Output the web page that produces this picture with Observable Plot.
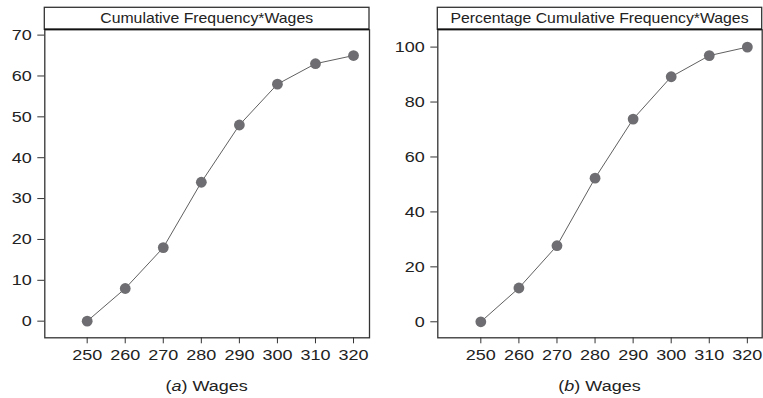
<!DOCTYPE html>
<html>
<head>
<meta charset="utf-8">
<script src="https://cdn.jsdelivr.net/npm/d3@7"></script>
<script src="https://cdn.jsdelivr.net/npm/@observablehq/plot@0.6"></script>
<style>
  body { margin: 0; background: #fff; }
  #wrap { position: relative; width: 763px; height: 398px; overflow: hidden; }
  #wrap svg { position: absolute; top: 0; }
</style>
</head>
<body>
<div id="wrap"></div>
<script>
// ---- data ----
const wages = [250, 260, 270, 280, 290, 300, 310, 320];
const cumFreq = [0, 8, 18, 34, 48, 58, 63, 65];
const pctCumFreq = [0, 12.3, 27.7, 52.3, 73.8, 89.2, 96.9, 100];
const xTicks = [250, 260, 270, 280, 290, 300, 310, 320];
const yTicksA = [0, 10, 20, 30, 40, 50, 60, 70];
const yTicksB = [0, 20, 40, 60, 80, 100];
const panelTitles = ["Cumulative Frequency*Wages", "Percentage Cumulative Frequency*Wages"];
const panelLetters = ["a", "b"];
const xLabelText = "Wages";

const FONT = "'Liberation Sans', Arial, Helvetica, sans-serif";
const TEXT = "#222";
const HEADER_H = 22;
const SX = 1.2;        // horizontal stretch of the reference lettering

function makePanel({values, yTicks, yDomain, xDomain, title, letter, left, width, marginLeft, marginRight}) {
  const data = wages.map((w, i) => ({w, v: values[i]}));
  const header = (index, scales, vals, dim) => {
    const g = d3.create("svg:g").attr("class", "hdr");
    const x0 = dim.marginLeft, x1 = dim.width - dim.marginRight;
    g.append("rect")
      .attr("x", x0).attr("y", dim.marginTop - HEADER_H)
      .attr("width", x1 - x0).attr("height", HEADER_H)
      .attr("fill", "#fff").attr("stroke", "#333").attr("stroke-width", 1.3);
    g.append("line")
      .attr("x1", x0).attr("x2", x1)
      .attr("y1", dim.marginTop).attr("y2", dim.marginTop)
      .attr("stroke", "#111").attr("stroke-width", 1.6);
    g.append("text")
      .attr("transform", `translate(${(x0 + x1) / 2},${dim.marginTop - HEADER_H / 2}) scale(1.13,1)`)
      .attr("dy", "0.36em")
      .attr("text-anchor", "middle")
      .style("font-family", FONT).style("font-size", "14px")
      .attr("fill", TEXT)
      .text(title);
    return g.node();
  };
  const plot = Plot.plot({
    width, height: 398,
    marginLeft, marginRight, marginTop: 29.3, marginBottom: 60.7,
    style: {fontFamily: FONT, fontSize: "15px", color: "#333", background: "transparent", overflow: "visible"},
    x: {domain: xDomain, ticks: xTicks, tickSize: 6, tickPadding: 6, label: null, tickFormat: d => String(d)},
    y: {domain: yDomain, ticks: yTicks, tickSize: 7, tickPadding: 6, label: null, tickFormat: d => String(d)},
    marks: [
      Plot.frame({stroke: "#333", strokeWidth: 1.3}),
      Plot.line(data, {x: "w", y: "v", stroke: "#606060", strokeWidth: 1}),
      Plot.dot(data, {x: "w", y: "v", r: 5.4, fill: "#6e6e72", stroke: "none"}),
      header
    ]
  });
  const svg = d3.select(plot);
  svg.style("left", left + "px");
  // axis tick labels: Plot-generated text outside the header group
  svg.selectAll("text").filter(function () { return !this.closest(".hdr"); }).each(function () {
    const el = d3.select(this);
    const tr = el.attr("transform") || "";
    el.attr("transform", `${tr} scale(${SX},1)`)
      .attr("fill", TEXT)
      .attr("font-size", 15)
      .style("font-family", FONT).style("font-size", "15px");
  });
  const cx = (marginLeft + width - marginRight) / 2;
  const t = svg.append("text")
    .attr("transform", `translate(${cx},390.7) scale(${SX},1)`)
    .attr("text-anchor", "middle")
    .style("font-family", FONT).style("font-size", "15px")
    .attr("fill", TEXT);
  t.append("tspan").text("(");
  t.append("tspan").attr("font-style", "italic").text(letter);
  t.append("tspan").text(") " + xLabelText);
  return plot;
}

const wrap = document.getElementById("wrap");
wrap.appendChild(makePanel({
  values: cumFreq, yTicks: yTicksA, yDomain: [-4.07, 71.3], xDomain: [238.86, 324.2],
  title: panelTitles[0], letter: panelLetters[0],
  left: 0, width: 381, marginLeft: 44.3, marginRight: 12
}));
wrap.appendChild(makePanel({
  values: pctCumFreq, yTicks: yTicksB, yDomain: [-5.83, 106.3], xDomain: [238.7, 323.9],
  title: panelTitles[1], letter: panelLetters[1],
  left: 381, width: 382, marginLeft: 56.3, marginRight: 1.3
}));
</script>
</body>
</html>
